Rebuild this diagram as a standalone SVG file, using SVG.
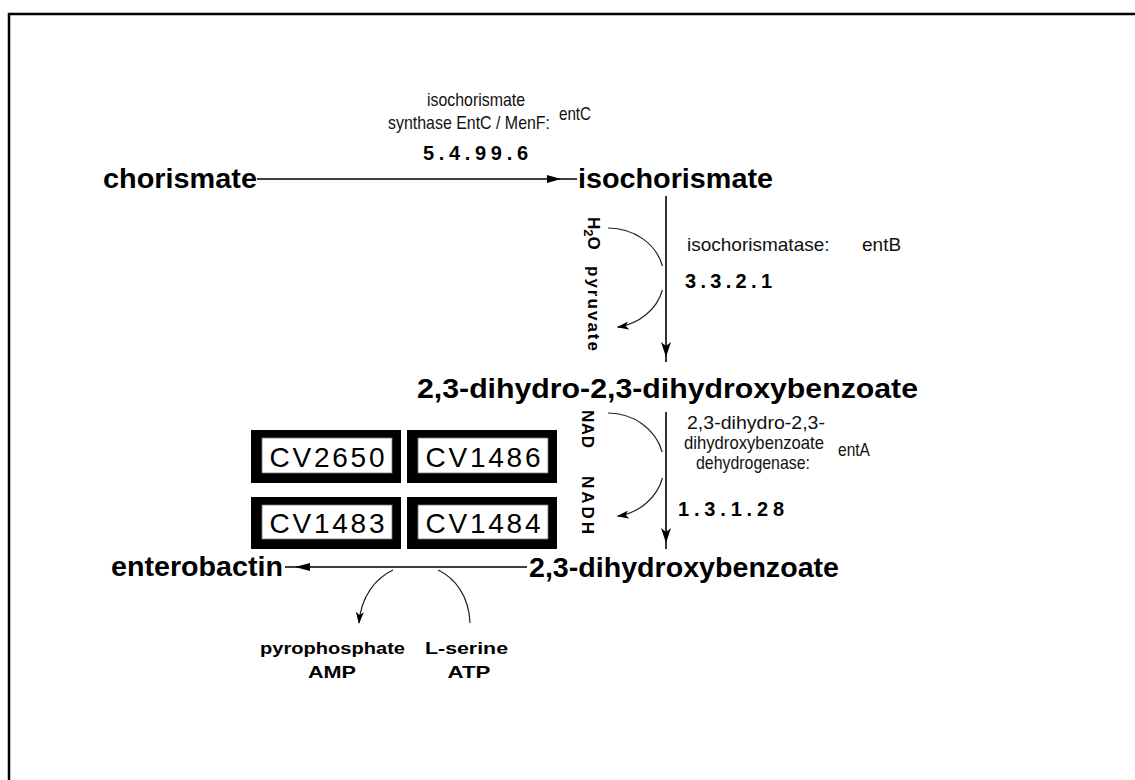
<svg xmlns="http://www.w3.org/2000/svg" width="1135" height="780" viewBox="0 0 1135 780">
<defs>
<style>
.cpd{font-family:"Liberation Sans",Arial,sans-serif;font-weight:bold;font-size:28px;fill:#000}
.lbl{font-family:"Liberation Sans",Arial,sans-serif;font-size:19px;fill:#111}
.ec{font-family:"Liberation Sans",Arial,sans-serif;font-weight:bold;font-size:20px;fill:#000}
.side{font-family:"Liberation Sans",Arial,sans-serif;font-weight:bold;font-size:17px;fill:#000}
.gene{font-family:"Liberation Sans",Arial,sans-serif;font-size:28px;fill:#000}
.rxn{stroke:#000;stroke-width:1.6;fill:none}
.cof{stroke:#222;stroke-width:1.2;fill:none}
.head{fill:#000}
.boxo{fill:#000}
.boxi{fill:#fff;stroke:#777;stroke-width:0.8}
</style>
<marker id="cofhead" viewBox="0 0 12 8" refX="11" refY="4" markerWidth="12" markerHeight="8" markerUnits="userSpaceOnUse" orient="auto">
<path d="M0,0 L12,4 L0,8 L3,4 Z" fill="#000"/>
</marker>
</defs>

<rect width="1135" height="780" fill="#fff"/>
<!-- frame -->
<path d="M9,780 L9,14 L1135,14" stroke="#000" stroke-width="2.5" fill="none"/>

<!-- compounds -->
<g id="chorismate"><text class="cpd" x="103" y="188" textLength="154" lengthAdjust="spacingAndGlyphs">chorismate</text></g>
<g id="isochorismate"><text class="cpd" x="578" y="188" textLength="195" lengthAdjust="spacingAndGlyphs">isochorismate</text></g>
<g id="dihydro-dhb"><text class="cpd" x="417" y="398" textLength="501" lengthAdjust="spacingAndGlyphs">2,3-dihydro-2,3-dihydroxybenzoate</text></g>
<g id="dhb"><text class="cpd" x="529" y="577" textLength="310" lengthAdjust="spacingAndGlyphs">2,3-dihydroxybenzoate</text></g>
<g id="enterobactin"><text class="cpd" x="111" y="576" textLength="172" lengthAdjust="spacingAndGlyphs">enterobactin</text></g>

<!-- enzyme labels -->
<g id="enz-entC">
<text class="lbl" x="476" y="106" font-size="17" text-anchor="middle" textLength="98" lengthAdjust="spacingAndGlyphs">isochorismate</text>
<text class="lbl" x="388" y="129" font-size="15" textLength="162" lengthAdjust="spacingAndGlyphs">synthase EntC / MenF:</text>
<text class="lbl" x="559" y="120" font-size="16" textLength="32" lengthAdjust="spacingAndGlyphs">entC</text>
<text class="ec" x="423" y="160" textLength="105" lengthAdjust="spacing">5.4.99.6</text>
</g>
<g id="enz-entB">
<text class="lbl" x="687" y="251">isochorismatase:</text>
<text class="lbl" x="862" y="251">entB</text>
<text class="ec" x="685" y="288" textLength="87" lengthAdjust="spacing">3.3.2.1</text>
</g>
<g id="enz-entA">
<text class="lbl" x="756" y="429" text-anchor="middle" textLength="138" lengthAdjust="spacingAndGlyphs">2,3-dihydro-2,3-</text>
<text class="lbl" x="754" y="449" font-size="16" text-anchor="middle" textLength="140" lengthAdjust="spacingAndGlyphs">dihydroxybenzoate</text>
<text class="lbl" x="753" y="469" font-size="16" text-anchor="middle" textLength="114" lengthAdjust="spacingAndGlyphs">dehydrogenase:</text>
<text class="lbl" x="838" y="456" font-size="16" textLength="32" lengthAdjust="spacingAndGlyphs">entA</text>
<text class="ec" x="678" y="516" textLength="106" lengthAdjust="spacing">1.3.1.28</text>
</g>

<!-- gene boxes -->
<g id="CV2650">
<rect class="boxo" x="251" y="430" width="150" height="53"/>
<rect class="boxi" x="262" y="438" width="130" height="35"/>
<text class="gene" x="327" y="467" text-anchor="middle" textLength="115" lengthAdjust="spacing">CV2650</text>
</g>
<g id="CV1486">
<rect class="boxo" x="407" y="430" width="150" height="53"/>
<rect class="boxi" x="418" y="438" width="130" height="35"/>
<text class="gene" x="483" y="467" text-anchor="middle" textLength="115" lengthAdjust="spacing">CV1486</text>
</g>
<g id="CV1483">
<rect class="boxo" x="251" y="497" width="150" height="52"/>
<rect class="boxi" x="262" y="505" width="130" height="34"/>
<text class="gene" x="327" y="533" text-anchor="middle" textLength="115" lengthAdjust="spacing">CV1483</text>
</g>
<g id="CV1484">
<rect class="boxo" x="407" y="497" width="150" height="52"/>
<rect class="boxi" x="418" y="505" width="130" height="34"/>
<text class="gene" x="483" y="533" text-anchor="middle" textLength="115" lengthAdjust="spacing">CV1484</text>
</g>

<!-- side metabolites -->
<g id="side-entB">
<text class="side" font-size="19" transform="translate(588,217) rotate(90)">H<tspan font-size="13" dy="4">2</tspan><tspan dy="-4">O</tspan></text>
<text class="side" font-size="19" transform="translate(588,266) rotate(90)" textLength="85" lengthAdjust="spacing">pyruvate</text>
</g>
<g id="side-entA">
<text class="side" transform="translate(582,410) rotate(90)" textLength="38" lengthAdjust="spacing">NAD</text>
<text class="side" transform="translate(582,476) rotate(90)" textLength="58" lengthAdjust="spacing">NADH</text>
</g>
<g id="side-ent">
<text class="side" x="260" y="654" font-size="19" textLength="145" lengthAdjust="spacingAndGlyphs">pyrophosphate</text>
<text class="side" x="332" y="678" font-size="19" text-anchor="middle" textLength="48" lengthAdjust="spacingAndGlyphs">AMP</text>
<text class="side" x="425" y="654" font-size="19" textLength="83" lengthAdjust="spacingAndGlyphs">L-serine</text>
<text class="side" x="469" y="678" font-size="19" text-anchor="middle" textLength="43" lengthAdjust="spacingAndGlyphs">ATP</text>
</g>

<!-- connectors -->
<g id="connectors">
<line class="rxn" x1="257" y1="179" x2="577" y2="179"/>
<polygon class="head" points="547,175 561,179 547,183"/>
<line class="rxn" x1="666" y1="196" x2="666" y2="362"/>
<polygon class="head" points="661,342 666,357 671,342 666,346"/>
<line class="rxn" x1="666" y1="412" x2="666" y2="549"/>
<polygon class="head" points="661,528 666,543 671,528 666,532"/>
<line class="rxn" x1="285" y1="567" x2="527" y2="567"/>
<polygon class="head" points="310,563 295,567 310,571"/>

<path class="cof" d="M608,228 A56,50 0 0 1 662.4,266"/>
<path class="cof" d="M662.4,290 A56,50 0 0 1 617.7,327.2" marker-end="url(#cofhead)"/>
<path class="cof" d="M608,413 A56,52 0 0 1 662.2,452"/>
<path class="cof" d="M662.5,478 A56,52 0 0 1 617.7,516.2" marker-end="url(#cofhead)"/>
<path class="cof" d="M393,570 C376,578 361,596 359,623" marker-end="url(#cofhead)"/>
<path class="cof" d="M438,570 C455,578 469,596 470,623"/>
</g>
</svg>
